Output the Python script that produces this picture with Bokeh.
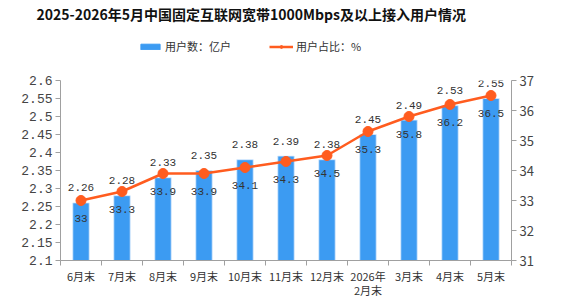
from bokeh.plotting import figure
from bokeh.layouts import column
from bokeh.models import (Range1d, LinearAxis, FixedTicker, CustomJSTickFormatter,
                          ColumnDataSource, Legend, LegendItem)
from bokeh.core.properties import value
from bokeh.embed import file_html
from bokeh.resources import INLINE

# ---- data ----
title_text = "2025-2026年5月中国固定互联网宽带1000Mbps及以上接入用户情况"
series_names = ["用户数：亿户", "用户占比：%"]
months = ["6月末", "7月末", "8月末", "9月末", "10月末", "11月末", "12月末",
          "2026年\n2月末", "3月末", "4月末", "5月末"]
users = [2.26, 2.28, 2.33, 2.35, 2.38, 2.39, 2.38, 2.45, 2.49, 2.53, 2.55]
share = [33, 33.3, 33.9, 33.9, 34.1, 34.3, 34.5, 35.3, 35.8, 36.2, 36.5]
left_ticks = [2.1, 2.15, 2.2, 2.25, 2.3, 2.35, 2.4, 2.45, 2.5, 2.55, 2.6]
right_ticks = [31, 32, 33, 34, 35, 36, 37]

FONT = "Noto Sans CJK SC"
NUMF = "Liberation Mono"
BAR = "#3C9BF2"
LINE = "#FF5C1F"
AXIS = "#A0A0A0"
TXT = "#333333"

W = 569
HEAD_H = 72

# ---------- header: title + legend ----------
h = figure(width=W, height=HEAD_H, output_backend="svg", toolbar_location=None,
           x_range=Range1d(0, 1), y_range=Range1d(0, 1),
           min_border_left=60, min_border_right=58, min_border_top=14, min_border_bottom=0)
h.xaxis.visible = False
h.yaxis.visible = False
h.xgrid.visible = False
h.ygrid.visible = False
h.outline_line_color = None
h.title.text = title_text
h.title.text_font = FONT
h.title.text_font_size = "14px"
h.title.text_font_style = "bold"
h.title.text_color = "#111111"
h.title.align = "left"
h.title.offset = -24
h.title.standoff = 2
# legend proxies (their single point lies outside the header's visible range)
proxy = ColumnDataSource(dict(x=[-10], y=[-10]))
lb = h.vbar(x="x", top="y", width=1, source=proxy, fill_color=BAR, line_color=BAR)
ll = h.line(x="x", y="y", source=proxy, line_color=LINE, line_width=2.5)
lp = h.scatter(x="x", y="y", source=proxy, size=8, fill_color=LINE, line_color=LINE)
legend = Legend(items=[LegendItem(label=series_names[0], renderers=[lb]),
                       LegendItem(label=series_names[1], renderers=[ll, lp])],
                orientation="horizontal", location=(78, 18),
                label_text_font=FONT, label_text_font_size="11px",
                label_text_color=TXT, glyph_width=24, glyph_height=7,
                spacing=38, padding=2, margin=0, label_standoff=3,
                border_line_color=None, background_fill_alpha=0)
h.add_layout(legend, "center")

# ---------- main chart ----------
n = len(months)
xs = [i + 0.5 for i in range(n)]
src = ColumnDataSource(dict(
    x=xs, users=users, share=share,
    ulab=[f"{v:g}" for v in users],
    slab=[f"{v:g}" for v in share],
    base=[left_ticks[0]] * n,
))

p = figure(width=W, height=300 - HEAD_H, output_backend="svg", toolbar_location=None,
           x_range=Range1d(0, n), y_range=Range1d(left_ticks[0], left_ticks[-1]),
           min_border_left=60, min_border_right=58, min_border_bottom=38,
           min_border_top=8)
p.extra_y_ranges = {"pct": Range1d(right_ticks[0], right_ticks[-1])}
p.outline_line_color = None
p.xgrid.visible = False
p.ygrid.visible = False

p.vbar(x="x", top="users", bottom="base", width=0.4, source=src,
       fill_color=BAR, line_color="#D5E9FC", line_width=0.8)
p.line(x="x", y="share", source=src, y_range_name="pct",
       line_color=LINE, line_width=2.5)
p.scatter(x="x", y="share", source=src, y_range_name="pct",
          size=10, fill_color=LINE, line_color=LINE)

p.text(x="x", y="users", text="ulab", source=src, text_align="center",
       text_baseline="middle", y_offset=-15, text_font=value(NUMF),
       text_font_size="11px", text_color=TXT)
p.text(x="x", y="share", text="slab", source=src, y_range_name="pct",
       text_align="center", text_baseline="middle", y_offset=18,
       text_font=value(NUMF), text_font_size="11px", text_color=TXT)

# x axis: labels at centers, tick marks between categories (minor ticks)
xa = p.xaxis[0]
xa.ticker = FixedTicker(ticks=xs, minor_ticks=list(range(n + 1)))
xa.formatter = CustomJSTickFormatter(args=dict(labels=months),
                                     code="return labels[Math.floor(tick)];")
xa.major_tick_out = 0
xa.major_tick_in = 0
xa.minor_tick_out = 5
xa.minor_tick_in = 0
xa.minor_tick_line_color = AXIS
xa.axis_line_color = AXIS
xa.major_label_text_font = FONT
xa.major_label_text_font_size = "11px"
xa.major_label_text_color = TXT
xa.major_label_text_line_height = 0.9
xa.major_label_standoff = 2

ya = p.yaxis[0]
ya.ticker = FixedTicker(ticks=left_ticks, minor_ticks=[])
ya.formatter = CustomJSTickFormatter(code="return tick.toFixed(2).replace(/0$/, '');")
ya.major_tick_out = 5
ya.major_tick_in = 0
ya.minor_tick_out = 0
ya.minor_tick_in = 0
ya.major_tick_line_color = AXIS
ya.axis_line_color = AXIS
ya.major_label_text_font = NUMF
ya.major_label_text_font_size = "13px"
ya.major_label_text_color = "#444444"
ya.major_label_standoff = 3

ra = LinearAxis(y_range_name="pct", ticker=FixedTicker(ticks=right_ticks, minor_ticks=[]))
ra.major_tick_out = 5
ra.major_tick_in = 0
ra.minor_tick_out = 0
ra.major_tick_line_color = AXIS
ra.axis_line_color = AXIS
ra.major_label_text_font = FONT
ra.major_label_text_font_size = "13px"
ra.major_label_text_color = "#444444"
ra.major_label_standoff = 3
p.add_layout(ra, "right")

layout = column(h, p, spacing=0)
open("out.html", "w").write(file_html(layout, INLINE))
